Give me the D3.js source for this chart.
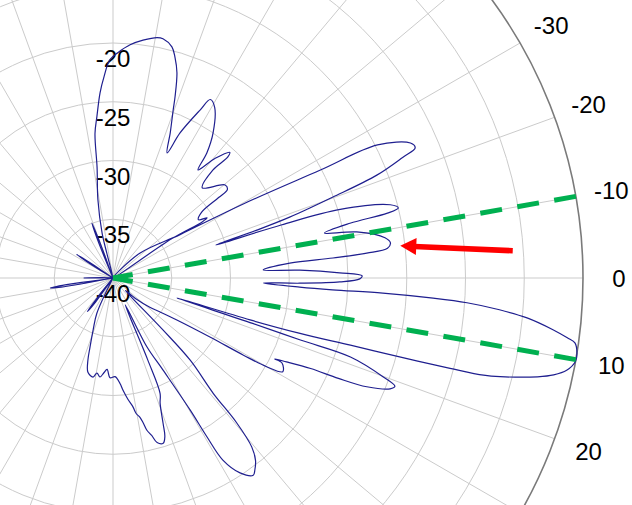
<!DOCTYPE html>
<html>
<head>
<meta charset="utf-8">
<script src="https://cdn.jsdelivr.net/npm/d3@7"></script>
<style>
  html, body { margin: 0; padding: 0; background: #fff; }
  svg { display: block; font-family: "Liberation Sans", Arial, sans-serif; }
</style>
</head>
<body>
<div id="chart"></div>
<script>
//***************** data *******************/
// pattern: angle in degrees (0 = right, clockwise), level in dB
var patternAngle = [
  -180, -177, -150, -148, -147, -146, -144, -114, -112, -111, -110, -108,
  -104, -103.7, -100.9, -98.2, -97.1, -95.7, -94, -92.5, -90.8, -88.7, -85.8, -82.8,
  -79.6, -78.2, -75.7, -74.3, -72.7, -71.1, -70.3, -68.5, -66.6, -65.2, -62.6, -61.4,
  -59.2, -55.4, -53.1, -51.8, -49.5, -47.1, -46.5, -47.2, -45.3, -39.7, -37.7, -37.3,
  -36.6, -34.3, -32.6, -32.2, -33.8, -34, -42.8, -32.9, -29.6, -27.5, -26.7, -24.4,
  -23.3, -22.6, -21.3, -20.2, -19.0, -18.4, -17.8, -17.5, -16.8, -14.8, -13.8, -13.3,
  -13.0, -12.0, -10.7, -8.4, -7.2, -6.2, -5.6, -5.2, -4.8, -3.1, -2.4, -1.3,
  -0.5, 0.2, 1.0, 1.6, 1.9, 2.8, 3.1, 3.2, 3.6, 4.0, 4.7, 5.5,
  6.7, 7.5, 8.0, 9.2, 10.2, 11.5, 12.4, 13.1, 14.3, 14.7, 15.0, 15.4,
  15.8, 16.5, 17.0, 17.4, 18.0, 18.3, 18.4, 20.1, 21.0, 21.8, 23.2, 24.0,
  24.6, 25.8, 26.6, 26.7, 28.9, 30.0, 30.6, 31.3, 33.3, 35.9, 38.5, 42,
  45, 46.1, 46.8, 49.0, 49.5, 50.6, 52.0, 53.5, 54.6, 56.9, 58.9, 59.4,
  59.7, 61.5, 63.8, 65.5, 67.0, 67.8, 69.4, 71.0, 71.9, 73.1, 75.0, 76.2,
  77.4, 78.2, 79.0, 80.3, 81.2, 83.0, 84.9, 86.2, 88.8, 91.7, 93.7, 95.5,
  97.5, 99.6, 101.4, 104.9, 107.0, 108.4, 111, 114.6, 117, 124, 126, 127.4,
  128.5, 131, 168, 170, 171, 172, 175, 180
];
var patternLevel = [
  -37.5, -40, -40, -37.5, -36.3, -38.5, -40, -40, -36.5, -35, -37.5, -40,
  -37.8, -36.1, -33.2, -30.5, -27.6, -26.2, -24.2, -22.8, -21.4, -20.8, -20.1, -19.6,
  -19.2, -19.2, -19.7, -20.5, -21.7, -23.7, -24.8, -26.7, -28.4, -26.4, -23.9, -22.7,
  -23.1, -25.0, -26.7, -28.3, -26.6, -25.4, -25.8, -27.5, -29.2, -27.6, -27.7, -28.7,
  -30.6, -31.2, -30.5, -31.0, -34, -40, -36.9, -33.2, -27.2, -20.1, -14.8, -12.2,
  -12.0, -13.3, -15.9, -20.1, -24.1, -27.1, -30.8, -25.0, -19.8, -15.6, -15.0, -16.0,
  -19.3, -21.6, -18.9, -16.6, -16.2, -16.5, -18.3, -21.2, -24.9, -27.2, -24.1, -20.7,
  -18.8, -19.0, -20.7, -24.1, -27.2, -24.1, -21.3, -17.0, -12.7, -9.8, -7.0, -4.6,
  -2.3, -1.0, -0.3, 0, 0, -0.6, -1.6, -2.9, -6.0, -7.4, -10.3, -14.7,
  -19.0, -23.4, -27.8, -34.3, -27.5, -23.2, -18.7, -15.5, -14.3, -14.6, -16.5, -19.0,
  -21.5, -23.6, -24.6, -23.9, -23.5, -24.9, -27.1, -30.3, -33.5, -35.1, -36.0, -37.3,
  -38.5, -33.9, -30.4, -27.0, -23.8, -21.4, -20.3, -19.7, -19.4, -20.2, -21.9, -24.3,
  -27.0, -31.1, -33.5, -37.5, -32.5, -29.4, -28.6, -26.9, -25.8, -25.3, -25.5, -26.2,
  -26.7, -27.4, -27.9, -28.3, -28.9, -29.6, -30.4, -31.0, -31.6, -31.5, -32.2, -31.9,
  -31.5, -31.8, -31.4, -31.7, -32.7, -33.8, -35.3, -36.7, -40, -40, -37.5, -36.4,
  -38, -40, -40, -35.5, -34.6, -36, -40, -37.5
];

// grid and labels
var gridAngles = d3.range(-180, 180, 10);
var gridLevels = [-35, -30, -25, -20, -15, -10, -5];
var outerLevel = 0;
var levelLabels = [-40, -35, -30, -25, -20];
var angleLabels = [-30, -20, -10, 0, 10, 20];

// green marker lines and red arrow (angle, dB)
var markerAngles = [-10, 10];
var arrowAngles = [-3.9, -6.4];   // tail, tip
var arrowLevels = [-5.9, -15.4];

//************* set dimensions ***************/
var W = 632, H = 505;
var cx = 113, cy = 278, R = 470;

var svg = d3.select("#chart")
  .append("svg")
    .attr("width", W)
    .attr("height", H);

var g = svg.append("g")
    .attr("transform", "translate(" + cx + "," + cy + ")");

//***************** scales *******************/
var r = d3.scaleLinear().domain([-40, 0]).range([0, R]).clamp(true);
// 0 deg points right, angles grow clockwise
var a = d3.scaleLinear().domain([-90, 270]).range([0, 2 * Math.PI]);

function pt(angle, level) { return d3.pointRadial(a(angle), r(level)); }

//***************** grid *******************/
g.selectAll(".spoke")
  .data(gridAngles)
  .enter().append("line")
    .attr("x1", 0).attr("y1", 0)
    .attr("x2", function(d) { return pt(d, outerLevel)[0]; })
    .attr("y2", function(d) { return pt(d, outerLevel)[1]; })
    .attr("stroke", "#cbcbcb")
    .attr("stroke-width", 1);

g.selectAll(".ring")
  .data(gridLevels)
  .enter().append("circle")
    .attr("r", function(d) { return r(d); })
    .attr("fill", "none")
    .attr("stroke", "#cbcbcb")
    .attr("stroke-width", 1);

g.append("circle")
  .attr("r", r(outerLevel))
  .attr("fill", "none")
  .attr("stroke", "#7a7a7a")
  .attr("stroke-width", 1.6);

//***************** labels *******************/
g.selectAll(".lvl")
  .data(levelLabels)
  .enter().append("text")
    .attr("x", 0)
    .attr("y", function(d) { return -r(d) + 15.5; })
    .attr("text-anchor", "middle")
    .attr("dominant-baseline", "central")
    .attr("font-size", "24px")
    .attr("fill", "#000")
    .text(function(d) { return d; });

g.selectAll(".ang")
  .data(angleLabels)
  .enter().append("text")
    .attr("x", function(d) { return d3.pointRadial(a(d), R + 36)[0]; })
    .attr("y", function(d) { return d3.pointRadial(a(d), R + 36)[1]; })
    .attr("text-anchor", "middle")
    .attr("dominant-baseline", "central")
    .attr("font-size", "24px")
    .attr("fill", "#000")
    .text(function(d) { return d; });

//***************** pattern *******************/
var pattern = patternAngle.map(function(d, i) { return [d, patternLevel[i]]; });

var line = d3.lineRadial()
  .angle(function(d) { return a(d[0]); })
  .radius(function(d) { return r(d[1]); })
  .curve(d3.curveCatmullRom.alpha(0.5));

g.append("path")
  .datum(pattern)
  .attr("d", line)
  .attr("fill", "none")
  .attr("stroke", "#1f1f8f")
  .attr("stroke-width", 1.2)
  .attr("stroke-linejoin", "round");

//***************** markers *******************/
// drawn from the rim inwards so the dash pattern ends on the rim
g.selectAll(".marker")
  .data(markerAngles)
  .enter().append("line")
    .attr("x1", function(d) { return pt(d, outerLevel)[0]; })
    .attr("y1", function(d) { return pt(d, outerLevel)[1]; })
    .attr("x2", 0).attr("y2", 0)
    .attr("stroke", "#00b050")
    .attr("stroke-width", 5)
    .attr("stroke-dasharray", "22,15.5");

// red arrow
var tail = pt(arrowAngles[0], arrowLevels[0]),
    tip = pt(arrowAngles[1], arrowLevels[1]);
var ang = Math.atan2(tip[1] - tail[1], tip[0] - tail[0]);
var headLen = 16, headHalf = 8.5;
var base = [tip[0] - headLen * Math.cos(ang), tip[1] - headLen * Math.sin(ang)];

g.append("line")
  .attr("x1", tail[0]).attr("y1", tail[1])
  .attr("x2", base[0] + 2 * Math.cos(ang)).attr("y2", base[1] + 2 * Math.sin(ang))
  .attr("stroke", "#ff0000")
  .attr("stroke-width", 5.5);

g.append("polygon")
  .attr("points", [
      tip,
      [base[0] + headHalf * Math.sin(ang), base[1] - headHalf * Math.cos(ang)],
      [base[0] - headHalf * Math.sin(ang), base[1] + headHalf * Math.cos(ang)]
    ].map(function(p) { return p.join(","); }).join(" "))
  .attr("fill", "#ff0000");
</script>
</body>
</html>
